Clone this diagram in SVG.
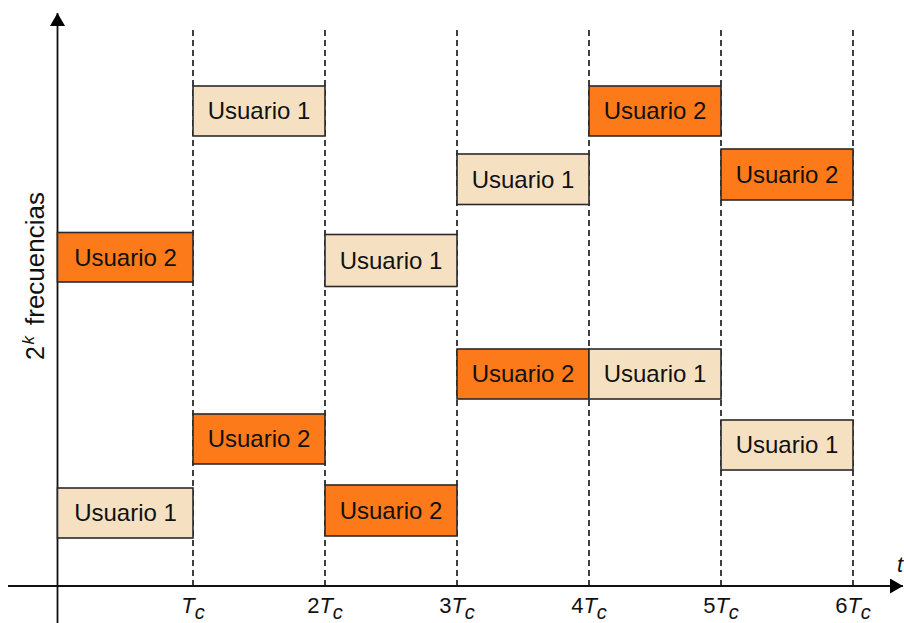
<svg xmlns="http://www.w3.org/2000/svg" width="904" height="623" viewBox="0 0 904 623">
<defs>
<style>
.grid{stroke:#111;stroke-width:1.6;stroke-dasharray:6,4;fill:none}
.axis{stroke:#111;stroke-width:1.8;fill:none}
.u1 rect{fill:#F5E1C2;stroke:#2a2a2a;stroke-width:1.6}
.u2 rect{fill:#FC7A19;stroke:#2a2a2a;stroke-width:1.6}
.lbl{font-family:"Liberation Sans",Arial,sans-serif;font-size:24px;fill:#111;text-anchor:middle}
.tick{font-family:"Liberation Sans",Arial,sans-serif;font-size:22px;fill:#111;text-anchor:middle}
.it{font-style:italic}
.sub{font-style:italic;font-size:20px}
</style>
<marker id="arr" markerWidth="16" markerHeight="16" refX="13" refY="7.5" orient="auto" markerUnits="userSpaceOnUse">
<path d="M0,0 L13,7.5 L0,15 Z" fill="#000"/>
</marker>
</defs>
<rect width="904" height="623" fill="#fff"/>

<g id="grid">
<line class="grid" x1="193" y1="30" x2="193" y2="586"/>
<line class="grid" x1="325" y1="30" x2="325" y2="586"/>
<line class="grid" x1="457" y1="30" x2="457" y2="586"/>
<line class="grid" x1="589" y1="30" x2="589" y2="586"/>
<line class="grid" x1="721" y1="30" x2="721" y2="586"/>
<line class="grid" x1="853" y1="30" x2="853" y2="586"/>
</g>

<g id="axes">
<line class="axis" x1="57.5" y1="623" x2="57.5" y2="13" marker-end="url(#arr)"/>
<line class="axis" x1="8" y1="586" x2="903" y2="586" marker-end="url(#arr)"/>
</g>

<g id="b1" class="u1"><rect x="193" y="86" width="132" height="50"/><text class="lbl" x="259" y="119">Usuario 1</text></g>
<g id="b2" class="u2"><rect x="57.5" y="232.5" width="135.5" height="49.5"/><text class="lbl" x="125.5" y="265.5">Usuario 2</text></g>
<g id="b3" class="u1"><rect x="325" y="234.5" width="132" height="52"/><text class="lbl" x="391" y="269">Usuario 1</text></g>
<g id="b4" class="u1"><rect x="457" y="154" width="132" height="50.5"/><text class="lbl" x="523" y="188">Usuario 1</text></g>
<g id="b5" class="u2"><rect x="589" y="86" width="132" height="50"/><text class="lbl" x="655" y="119">Usuario 2</text></g>
<g id="b6" class="u2"><rect x="721" y="149" width="132" height="51"/><text class="lbl" x="787" y="183">Usuario 2</text></g>
<g id="b7" class="u2"><rect x="457" y="349" width="132" height="50"/><text class="lbl" x="523" y="382">Usuario 2</text></g>
<g id="b8" class="u1"><rect x="589" y="349" width="132" height="50"/><text class="lbl" x="655" y="382">Usuario 1</text></g>
<g id="b9" class="u2"><rect x="193" y="414" width="132" height="50"/><text class="lbl" x="259" y="447">Usuario 2</text></g>
<g id="b10" class="u1"><rect x="721" y="420" width="132" height="50"/><text class="lbl" x="787" y="453">Usuario 1</text></g>
<g id="b11" class="u1"><rect x="57.5" y="488" width="135.5" height="50"/><text class="lbl" x="125.5" y="521">Usuario 1</text></g>
<g id="b12" class="u2"><rect x="325" y="485" width="132" height="51"/><text class="lbl" x="391" y="519">Usuario 2</text></g>

<g id="ticks">
<text class="tick" x="193" y="613"><tspan class="it">T</tspan><tspan class="sub" dy="6">c</tspan></text>
<text class="tick" x="325" y="613">2<tspan class="it">T</tspan><tspan class="sub" dy="6">c</tspan></text>
<text class="tick" x="457" y="613">3<tspan class="it">T</tspan><tspan class="sub" dy="6">c</tspan></text>
<text class="tick" x="589" y="613">4<tspan class="it">T</tspan><tspan class="sub" dy="6">c</tspan></text>
<text class="tick" x="721" y="613">5<tspan class="it">T</tspan><tspan class="sub" dy="6">c</tspan></text>
<text class="tick" x="853" y="613">6<tspan class="it">T</tspan><tspan class="sub" dy="6">c</tspan></text>
<text class="tick it" x="900" y="572">t</text>
</g>

<g id="ylabel" transform="translate(44,360) rotate(-90)" font-family="Liberation Sans, Arial, sans-serif" fill="#111">
<text x="0" y="0" font-size="25">2</text>
<text x="15.5" y="-10" font-size="17" font-style="italic">k</text>
<text x="35" y="0" font-size="26">frecuencias</text>
</g>
</svg>
